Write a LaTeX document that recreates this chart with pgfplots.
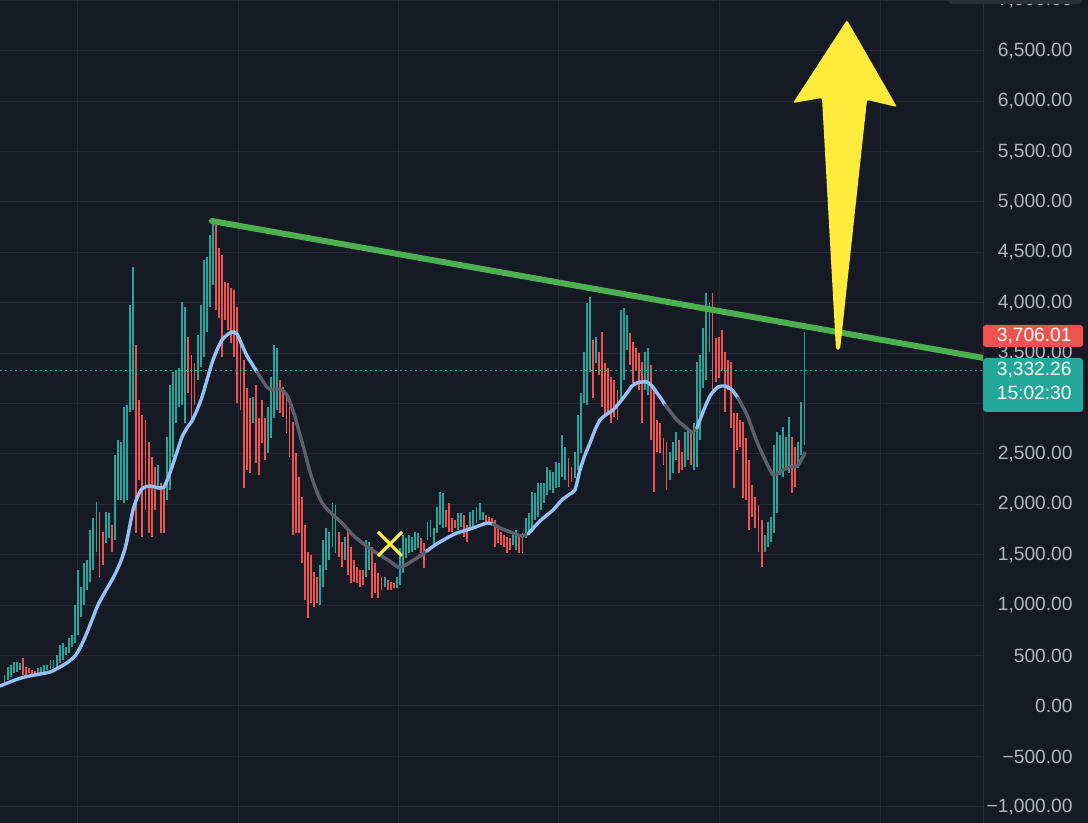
\documentclass[border=0pt]{standalone}
\usepackage{pgfplots}
\usepackage{pgfplotstable}
\pgfplotsset{compat=1.18}
\usepackage{fontspec}
\setmainfont{Liberation Sans}
\definecolor{bg}{HTML}{161A25}
\definecolor{gridc}{HTML}{242835}
\definecolor{sepc}{HTML}{2A2E39}
\definecolor{upc}{HTML}{26A69A}
\definecolor{dnc}{HTML}{EF5350}
\definecolor{mablue}{HTML}{93C1F5}
\definecolor{magray}{HTML}{5D606B}
\definecolor{trendc}{HTML}{4CAF50}
\definecolor{arrowc}{HTML}{FFEB3B}
\definecolor{labc}{HTML}{B2B5BE}
\definecolor{redbox}{HTML}{EF5350}
\definecolor{tealbox}{HTML}{22A799}
\newcommand\lf{\fontsize{9.6pt}{11pt}\selectfont}

\pgfplotstableread{
i lo hi
0 228 308
1 258 387
2 288 407
3 327 436
4 337 436
5 357 427
11 327 377
12 327 387
13 337 407
14 357 407
15 367 456
16 377 456
17 387 506
18 427 605
19 456 625
20 506 585
21 526 675
22 585 704
23 625 1002
24 704 1349
25 883 1180
26 1002 1419
27 1151 1448
28 1230 1746
29 1349 1865
30 1528 2024
33 1617 1924
34 1667 1915
36 1647 2490
37 2044 2639
38 2044 2619
39 2014 2966
40 2044 2986
41 2916 3978
42 2936 4355
50 2143 2391
53 2044 2668
54 2143 3184
55 2470 3313
56 2807 3333
57 2966 3353
58 2986 4008
59 2807 3958
63 3234 3680
64 3363 3978
65 3462 4424
66 3710 4454
67 3958 4672
68 4176 4791
81 2807 3065
86 2510 2966
87 2659 3264
88 2857 3581
89 2936 3551
103 1002 1399
104 1180 1647
105 1349 1766
106 1448 1726
107 1577 2014
108 1518 1994
111 1448 1676
118 1280 1647
119 1349 1627
124 1180 1280
128 1171 1280
129 1200 1567
130 1319 1696
131 1468 1667
132 1518 1696
133 1528 1676
134 1548 1726
135 1567 1716
138 1647 1825
139 1676 1845
140 1597 1766
141 1716 1974
142 1796 2123
143 1766 2113
148 1746 1915
149 1776 1915
152 1766 1924
153 1776 1944
154 1815 1974
155 1845 2014
156 1845 1924
166 1597 1726
167 1548 1746
170 1667 1865
171 1696 1915
172 1726 2123
173 1845 2113
174 1875 2212
175 1944 2212
176 2014 2212
177 2093 2371
178 2143 2341
179 2113 2321
180 2163 2420
181 2172 2411
182 2272 2688
183 2242 2569
186 2262 2520
187 2341 2887
188 2510 3105
189 3006 3512
190 2986 3998
191 3313 4057
193 3403 3660
201 3006 3928
202 3234 3948
203 3532 3879
209 3135 3512
210 3085 3551
217 2242 2520
218 2311 2619
219 2440 2718
222 2371 2718
223 2440 2758
225 2341 2807
226 2371 3412
227 2639 3482
228 3155 3750
229 3234 4097
230 3512 3998
248 1528 1696
249 1577 1825
250 1627 1875
251 1716 2589
252 1915 2718
253 2292 2688
254 2272 2768
255 2341 2668
256 2311 2867
259 2361 2619
260 2490 3016
261 2589 3710
}\upcandles

\pgfplotstableread{
i lo hi
6 308 476
7 308 387
8 327 377
9 317 357
10 317 347
31 1280 1924
32 1399 1726
35 1528 1796
43 1716 3581
44 2242 3036
45 1676 2887
46 1944 2837
47 1716 2619
48 1676 2470
49 1944 2371
51 1716 2212
52 1716 2172
60 3105 3660
61 2807 3482
62 2986 3403
69 3928 4772
70 3849 4543
71 3462 4474
72 3829 4206
73 3730 4196
74 3601 4147
75 3462 4127
76 3006 3958
77 2936 3660
78 2163 3432
79 2341 3155
80 2311 3055
82 2411 3184
83 2292 2857
84 2609 3036
85 2440 2857
90 2907 3234
91 2867 3164
92 2708 3115
93 2470 2966
94 1696 2817
95 1716 2510
96 1716 2272
97 1419 2073
98 1052 1796
99 873 1528
100 1022 1498
101 982 1329
102 1022 1280
109 1478 1726
110 1379 1627
112 1300 1766
113 1220 1577
114 1230 1448
115 1220 1379
116 1180 1349
117 1200 1349
120 1071 1577
121 1121 1419
122 1071 1319
123 1151 1280
125 1151 1250
126 1151 1230
127 1171 1220
136 1518 1667
137 1369 1617
144 1776 1944
145 1726 2014
146 1726 1865
147 1766 1845
150 1676 1895
151 1627 1796
157 1796 1895
158 1815 1875
159 1796 1865
160 1577 1845
161 1617 1796
162 1597 1726
163 1577 1696
164 1518 1676
165 1548 1667
168 1518 1676
169 1518 1716
184 2172 2460
185 2222 2371
192 3055 3631
194 3284 3512
195 2966 3710
196 2867 3403
197 2907 3353
198 2807 3264
199 2867 3234
200 2837 3135
204 3383 3700
205 3204 3611
206 3333 3551
207 3135 3502
208 2807 3412
211 2639 3383
212 2123 3164
213 2520 2837
214 2510 2807
215 2391 2659
216 2143 2619
220 2311 2639
221 2341 2520
224 2391 2718
231 3115 4097
232 3214 3651
233 3254 3660
234 3333 3730
235 2916 3512
236 3135 3432
237 2758 3412
238 2163 2907
239 2540 2907
240 2569 2837
241 2063 2817
242 2044 2659
243 1746 2440
244 1875 2192
245 1766 2073
246 1528 1994
247 1379 1845
257 2113 2668
258 2172 2569
}\dncandles

\begin{document}
\begin{tikzpicture}[x=0.5pt,y=0.5pt]
\clip (0,0) rectangle (1088,823);
\fill[bg] (0,0) rectangle (1088,823);
\begin{axis}[
  at={(0,0)}, anchor=south west,
  scale only axis, width=491.5pt, height=411.5pt,
  xmin=0, xmax=983, ymin=-1160.6, ymax=7003.5,
  axis line style={draw=none},
  major tick length=0pt,
  xtick={77,238,398,558,719,880}, xticklabels={},
  ytick={-1000,-500,0,500,1000,1500,2000,2500,3000,3500,4000,4500,5000,5500,6000,6500,7000},
  yticklabels={{−1,000.00},{−500.00},{0.00},{500.00},{1,000.00},{1,500.00},{2,000.00},{2,500.00},{3,000.00},{3,500.00},{4,000.00},{4,500.00},{5,000.00},{5,500.00},{6,000.00},{6,500.00},{7,000.00}},
  yticklabel pos=right,
  yticklabel style={anchor=east, inner sep=0pt, xshift=45pt, text=labc, font=\lf},
  grid=major,
  grid style={draw=gridc, line width=0.5pt},
]
% candles
\addplot[draw=none, mark=none, forget plot,
  error bars/.cd, y dir=plus, y explicit, error mark=none,
  error bar style={draw=upc, solid, line width=0.95pt}]
  table[x expr=4.5+3.065*\thisrow{i}, y=lo, y error expr=\thisrow{hi}-\thisrow{lo}] {\upcandles};
\addplot[draw=none, mark=none, forget plot,
  error bars/.cd, y dir=plus, y explicit, error mark=none,
  error bar style={draw=dnc, solid, line width=0.95pt}]
  table[x expr=4.5+3.065*\thisrow{i}, y=lo, y error expr=\thisrow{hi}-\thisrow{lo}] {\dncandles};
% last price line
\addplot[upc, line width=0.5pt, dash pattern=on 1pt off 1.5pt] coordinates {(0,3332.26) (983,3332.26)};
% moving average
\addplot[mablue, line width=1.7pt, smooth, tension=0.4, line cap=round] coordinates {
(0,198) (15,258) (25,288) (35,308) (50,337) (60,387) (68,436) (75,496) (80,575) (86,704) (92,853) (98,1002) (105,1131) (112,1250) (118,1369) (122,1468) (126,1597) (130,1796) (133,1944) (137,2063) (141,2143) (145,2172) (150,2182) (155,2172) (160,2163) (164,2172) (168,2262) (172,2371) (177,2520) (182,2668) (187,2758) (192,2827) (197,2936) (202,3065) (207,3234) (212,3403) (217,3532) (222,3631) (227,3680) (232,3710) (237,3690) (242,3581) (247,3472) (252,3393) (257,3313)};
\addplot[magray, line width=1.7pt, smooth, tension=0.4, line cap=round] coordinates {
(257,3313) (262,3234) (267,3164) (272,3135) (277,3145) (282,3135) (288,3065) (295,2867) (300,2688) (305,2510) (310,2321) (315,2172) (320,2053) (325,1974) (333,1895) (342,1815) (355,1676) (372,1548) (388,1448) (398,1379) (404,1389) (412,1438) (420,1488) (427,1538)};
\addplot[mablue, line width=1.7pt, smooth, tension=0.4, line cap=round] coordinates {
(427,1538) (435,1597) (447,1667) (457,1716) (473,1766) (487,1815) (493,1805)};
\addplot[magray, line width=1.7pt, smooth, tension=0.4, line cap=round] coordinates {
(493,1805) (500,1766) (513,1716) (522,1686) (528,1706)};
\addplot[mablue, line width=1.7pt, smooth, tension=0.4, line cap=round] coordinates {
(528,1706) (540,1835) (553,1944) (562,2044) (570,2103) (575,2143) (580,2341) (585,2490) (590,2609) (595,2738) (600,2837) (607,2897) (613,2936) (620,3016) (627,3105) (632,3174) (637,3204) (642,3214) (647,3214) (652,3174) (657,3105) (662,3036) (665,2986)};
\addplot[magray, line width=1.7pt, smooth, tension=0.4, line cap=round] coordinates {
(665,2986) (672,2897) (677,2837) (684,2778) (692,2718) (697,2758)};
\addplot[mablue, line width=1.7pt, smooth, tension=0.4, line cap=round] coordinates {
(697,2758) (703,2916) (710,3075) (718,3164) (725,3174) (732,3135) (738,3055)};
\addplot[magray, line width=1.7pt, smooth, tension=0.4, line cap=round] coordinates {
(738,3055) (747,2887) (757,2619) (767,2401) (773,2292) (778,2311) (783,2341) (790,2371) (798,2391) (805,2510)};
% trend line
\addplot[trendc, line width=3pt, line cap=round] coordinates {(212,4811) (995,3432)};
% yellow cross
\draw[arrowc, line width=1.5pt] (axis cs:378,1726) -- (axis cs:402,1488);
\draw[arrowc, line width=1.5pt] (axis cs:378,1488) -- (axis cs:402,1726);
% yellow arrow
\fill[arrowc, rounded corners=1pt] (axis cs:847,6805) -- (axis cs:897,5942) -- (axis cs:867,6012)
  -- (axis cs:840,3532) -- (axis cs:836,3532) -- (axis cs:822,6031) -- (axis cs:793,5982) -- cycle;
\end{axis}
% price scale separator
\draw[sepc, line width=0.5pt] (983,0) -- (983,823);
% top UI box
\fill[sepc, rounded corners=2pt] (948,819) rectangle (1082,830);
% price labels
\fill[redbox, rounded corners=1.5pt] (983,476) rectangle (1083,498);
\node[anchor=east, inner sep=0pt, text=white, font=\lf] at (1072,487) {3,706.01};
\fill[tealbox, rounded corners=1.5pt] (983,411) rectangle (1083,465);
\node[anchor=east, inner sep=0pt, text=white, font=\lf] at (1072,453) {3,332.26};
\node[anchor=east, inner sep=0pt, text=white, font=\lf] at (1072,430) {15:02:30};
\end{tikzpicture}
\end{document}
